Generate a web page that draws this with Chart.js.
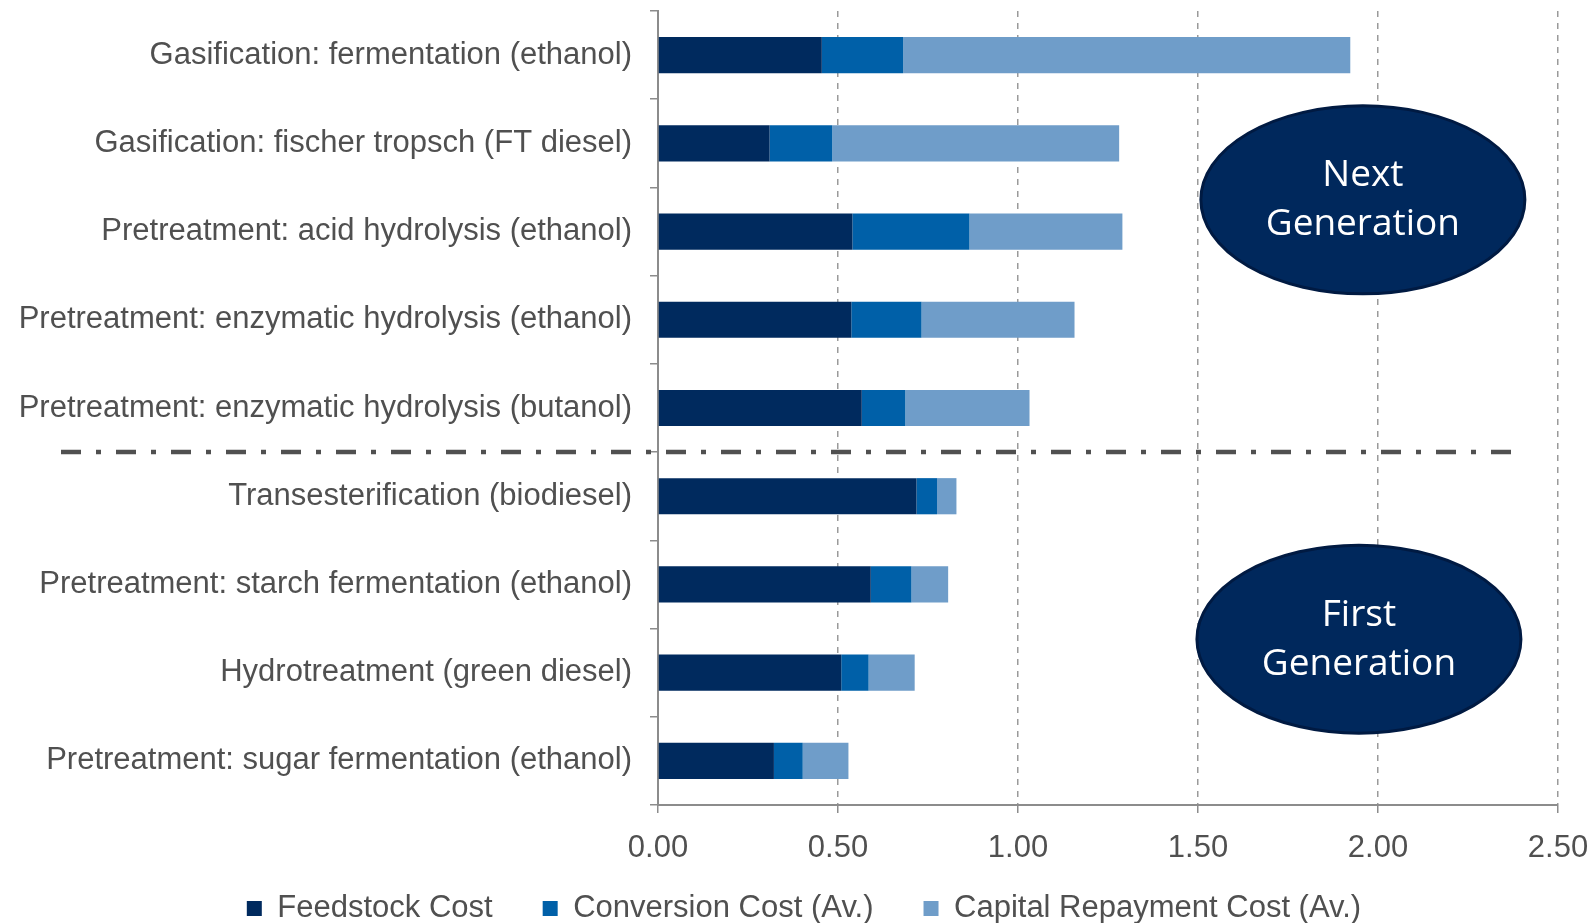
<!DOCTYPE html>
<html>
<head>
<meta charset="utf-8">
<script src="https://cdn.jsdelivr.net/npm/chart.js@4/dist/chart.umd.min.js"></script>
<style>
  html, body { margin: 0; padding: 0; background: #fff; overflow: hidden; }
  #wrap { width: 1594px; height: 923px; }
</style>
</head>
<body>
<div id="wrap"><canvas id="chart"></canvas></div>
<script>
const categories = [
  "Gasification: fermentation (ethanol)",
  "Gasification: fischer tropsch (FT diesel)",
  "Pretreatment: acid hydrolysis (ethanol)",
  "Pretreatment: enzymatic hydrolysis (ethanol)",
  "Pretreatment: enzymatic hydrolysis (butanol)",
  "Transesterification (biodiesel)",
  "Pretreatment: starch fermentation (ethanol)",
  "Hydrotreatment (green diesel)",
  "Pretreatment: sugar fermentation (ethanol)"
]
const feedstock = [0.455, 0.31, 0.54, 0.537, 0.566, 0.718, 0.591, 0.509, 0.322]
const conversion = [0.226, 0.174, 0.325, 0.195, 0.121, 0.057, 0.113, 0.076, 0.08]
const capital = [1.242, 0.797, 0.425, 0.425, 0.345, 0.054, 0.102, 0.128, 0.127]
const seriesNames = ["Feedstock Cost", "Conversion Cost (Av.)", "Capital Repayment Cost (Av.)"]
const xTicks = [0, 0.5, 1, 1.5, 2, 2.5]
const groupLabels = [
  { lines: ["Next", "Generation"], x: 1.958, y: 1.64 },
  { lines: ["First", "Generation"], x: 1.947, y: 6.62 }
]
const dividerAfter = 4.5

const font = "'Liberation Sans', Arial, sans-serif"
const textColor = "#505050"

const overlay = {
  id: "overlay",
  afterLayout(chart) {
    // let the x tick labels draw below the shortened axis box
    chart.scales.x.bottom = chart.height
  },
  afterDatasetsDraw(chart) {
    const { ctx, scales: { x, y } } = chart

    // dash-dot divider between next and first generation
    const yy = y.getPixelForValue(dividerAfter)
    ctx.save()
    ctx.strokeStyle = "#505050"
    ctx.lineWidth = 4.5
    ctx.setLineDash([20, 15, 5, 15])
    ctx.beginPath()
    ctx.moveTo(61, yy)
    ctx.lineTo(x.getPixelForValue(2.41), yy)
    ctx.stroke()
    ctx.restore()

    // generation ellipses
    groupLabels.forEach(g => {
      const cx = x.getPixelForValue(g.x)
      const cy = y.getPixelForValue(g.y)
      ctx.save()
      ctx.beginPath()
      ctx.ellipse(cx, cy, 162, 94, 0, 0, Math.PI * 2)
      ctx.fillStyle = "#00285c"
      ctx.fill()
      ctx.lineWidth = 3
      ctx.strokeStyle = "#001a42"
      ctx.stroke()
      ctx.fillStyle = "#fff"
      ctx.font = "37px 'Open Sans', 'Noto Sans', sans-serif"
      ctx.textAlign = "center"
      ctx.textBaseline = "middle"
      ctx.fillText(g.lines[0], cx, cy - 24)
      ctx.fillText(g.lines[1], cx, cy + 25)
      ctx.restore()
    })
  }
}

new Chart(document.getElementById("chart"), {
  type: "bar",
  data: {
    labels: categories,
    datasets: [
      { label: seriesNames[0], data: feedstock, backgroundColor: "#002a5e" },
      { label: seriesNames[1], data: conversion, backgroundColor: "#0060a8" },
      { label: seriesNames[2], data: capital, backgroundColor: "#6f9dc9" }
    ]
  },
  options: {
    indexAxis: "y",
    responsive: true,
    maintainAspectRatio: false,
    animation: false,
    datasets: { bar: { categoryPercentage: 1, barPercentage: 0.41 } },
    layout: { padding: { top: 11, right: 0, bottom: 0, left: 14 } },
    plugins: {
      legend: {
        position: "bottom",
        maxHeight: 80,
        labels: {
          font: { family: font, size: 31 },
          color: textColor,
          boxWidth: 15,
          boxHeight: 15,
          padding: 50
        }
      },
      tooltip: { enabled: false }
    },
    scales: {
      x: {
        stacked: true,
        min: 0,
        max: 2.5,
        afterBuildTicks(axis) { axis.ticks = xTicks.map(v => ({ value: v })) },
        afterFit(axis) {
          axis.height = 38
          axis.paddingRight = 36
        },
        ticks: {
          font: { family: font, size: 31 },
          color: textColor,
          padding: 17,
          callback: v => v.toFixed(2)
        },
        grid: { color: "#9a9a9a", lineWidth: 1.5, tickLength: 8, tickColor: "#8c8c8c" },
        border: { color: "#8c8c8c", width: 2, dash: [6, 6] }
      },
      y: {
        stacked: true,
        afterFit(axis) {
          axis.width = 644
          axis.paddingTop = 0
          axis.paddingBottom = 0
        },
        ticks: {
          font: { family: font, size: 31 },
          color: textColor,
          padding: 18
        },
        grid: { drawOnChartArea: false, offset: true, tickLength: 8, color: "#8c8c8c", lineWidth: 1.5 },
        border: { color: "#8c8c8c", width: 2 }
      }
    }
  },
  plugins: [overlay]
})
</script>
</body>
</html>
